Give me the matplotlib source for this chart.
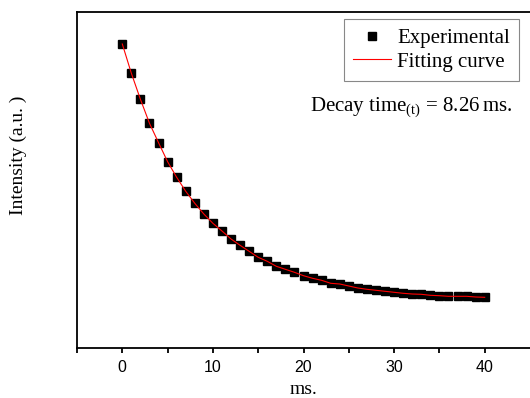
import matplotlib
matplotlib.use("Agg")
import matplotlib.pyplot as plt
from matplotlib.ticker import FixedLocator
from matplotlib.lines import Line2D

# Data (arbitrary intensity units)
time_ms = list(range(0, 41))
intensity = [304, 274.7, 248.7, 224.7, 205.3, 186.3, 170.7, 156.7, 144.7, 134,
             124.7, 117, 109, 102.7, 96.7, 90.7, 86.7, 81.7, 78.7, 75.7,
             72.3, 69.7, 67.7, 64.7, 64, 62, 60, 58.7, 57.7, 56.7,
             55.7, 54.7, 54, 53.7, 52.7, 52.3, 51.7, 51.7, 51.7, 51, 50.7]
xticks = [0, 10, 20, 30, 40]
minor_ticks = [-5, 5, 15, 25, 35]

plt.rcParams['mathtext.fontset'] = 'custom'
plt.rcParams['mathtext.rm'] = 'Liberation Serif'

W, H = 530, 398
fig = plt.figure(figsize=(W / 100, H / 100), dpi=100)
ax = fig.add_axes([77 / W, 50 / H, (W - 77) / W, 336 / H])

ax.plot(time_ms, intensity, linestyle='none', marker='s', markersize=5.6,
        color='black', zorder=2)
ax.plot(time_ms, intensity, color='red', linewidth=0.8, zorder=3)

ax.set_xlim(-5, 45)
ax.set_ylim(0, 336)

ax.xaxis.set_major_locator(FixedLocator(xticks))
ax.xaxis.set_minor_locator(FixedLocator(minor_ticks))
ax.set_yticks([])
for s in ['left', 'bottom', 'top']:
    ax.spines[s].set_linewidth(1.3)
ax.spines['right'].set_visible(False)
ax.tick_params(axis='x', which='both', direction='out', length=3.5, width=1.3,
               pad=5, labelsize=11.5)
for lab in ax.get_xticklabels():
    lab.set_fontfamily('Liberation Sans')

ax.set_xlabel('ms.', fontfamily='Liberation Serif', fontsize=14)
ax.xaxis.set_label_coords(0.5, (348 - 390) / 336)
ax.xaxis.label.set_va('center')
ax.set_ylabel('Intensity (a.u. )', fontfamily='Liberation Serif', fontsize=14)
ax.yaxis.set_label_coords((18 - 77) / 453, (348 - 155) / 336)
ax.yaxis.label.set_va('center')

handles = [Line2D([], [], linestyle='none', marker='s', markersize=5.6, color='black'),
           Line2D([], [], color='red', linewidth=0.8)]
leg = ax.legend(handles, ['Experimental', 'Fitting curve'],
                loc='upper right', bbox_to_anchor=(519 / W, 1 - 19 / H),
                bbox_transform=fig.transFigure,
                prop={'family': 'Liberation Serif', 'size': 15},
                handlelength=1.8, handletextpad=0.3, borderpad=0.45,
                labelspacing=0.2, borderaxespad=0, fancybox=False,
                framealpha=1, edgecolor='#888888')
leg.get_frame().set_linewidth(0.8)

fig.text(513 / W, 1 - 111.7 / H, r'Decay time$_{\mathrm{(t)}}$ = 8.26$\,$ms.',
         fontfamily='Liberation Serif', fontsize=15, ha='right', va='baseline')

fig.savefig('out.png', dpi=100)
